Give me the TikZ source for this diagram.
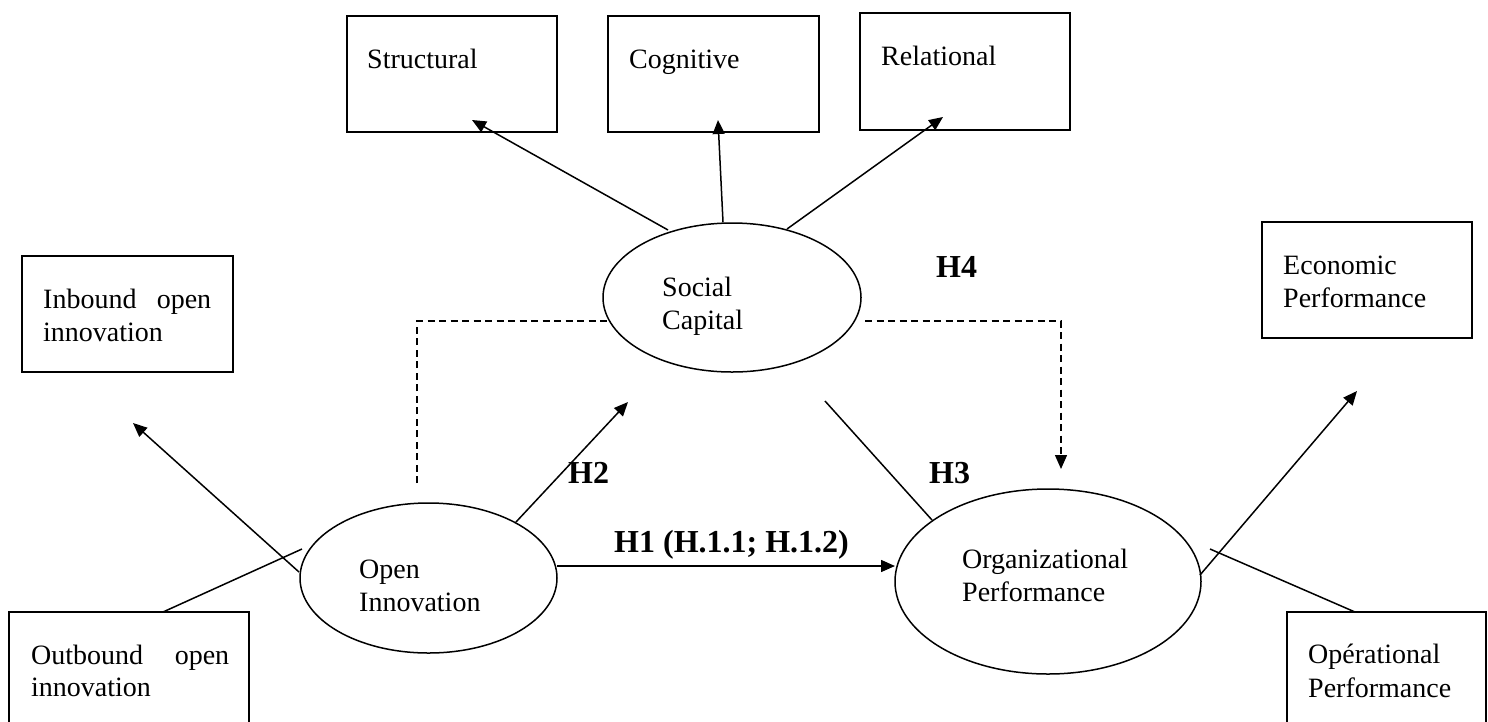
\documentclass[tikz,border=0pt]{standalone}
\usepackage{fontspec}
\setmainfont{Liberation Serif}
\usetikzlibrary{arrows.meta,shapes.geometric}
\begin{document}
\begin{tikzpicture}[x=1pt,y=-1pt,
  box/.style={draw, line width=1.7pt, inner sep=0pt, outer sep=0pt},
  oval/.style={draw, ellipse, line width=1.5pt, inner sep=0pt, outer sep=0pt},
  lbl/.style={anchor=base west, inner sep=0pt, font=\fontsize{28}{33}\selectfont},
  hyp/.style={anchor=base west, inner sep=0pt, font=\bfseries\fontsize{32}{36}\selectfont},
  conn/.style={line width=1.5pt},
  arr/.style={conn, -{Triangle[length=14pt,width=12pt]}},
  dashline/.style={line width=1.4pt, dash pattern=on 7pt off 4.5pt}]
\fill[white] (0,0) rectangle (1488,721);
\useasboundingbox (0,0) rectangle (1488,721);
\clip (0,0) rectangle (1488,721);

% boxes
\node[box, minimum width=210pt, minimum height=116pt] (str) at (452,74) {};
\node[box, minimum width=211pt, minimum height=116pt] (cog) at (713.5,74) {};
\node[box, minimum width=210pt, minimum height=117pt] (rel) at (965,71.5) {};
\node[box, minimum width=211pt, minimum height=116pt] (inb) at (127.5,314) {};
\node[box, minimum width=240pt, minimum height=140pt] (outb) at (129,682) {};
\node[box, minimum width=210pt, minimum height=116pt] (eco) at (1367,280) {};
\node[box, minimum width=199pt, minimum height=140pt] (ope) at (1386.5,682) {};

% ellipses
\node[oval, minimum width=258pt, minimum height=149pt] (sc) at (732,297.5) {};
\node[oval, minimum width=257pt, minimum height=150pt] (oi) at (428.5,578) {};
\node[oval, minimum width=306pt, minimum height=185pt] (op) at (1048,581.5) {};

% texts
\node[lbl] (tStr) at (367,68) {Structural};
\node[lbl] (tCog) at (629,68) {Cognitive};
\node[lbl] (tRel) at (881,65) {Relational};
\node[lbl] (tInbA) at (43,308) {\makebox[168pt][s]{Inbound open}};
\node[lbl] (tInbB) at (43,341) {innovation};
\node[lbl] (tOutA) at (31,664) {\makebox[198pt][s]{Outbound open}};
\node[lbl] (tOutB) at (31,696) {innovation};
\node[lbl] (tEcoA) at (1283,274) {Economic};
\node[lbl] (tEcoB) at (1283,307) {Performance};
\node[lbl] (tOpeA) at (1308,663) {Opérational};
\node[lbl] (tOpeB) at (1308,697) {Performance};
\node[lbl] (tScA) at (662,296) {Social};
\node[lbl] (tScB) at (662,329) {Capital};
\node[lbl] (tOiA) at (359,578) {Open};
\node[lbl] (tOiB) at (359,611) {Innovation};
\node[lbl] (tOpA) at (962,568) {Organizational};
\node[lbl] (tOpB) at (962,601) {Performance};

% hypothesis labels
\node[hyp] (h1) at (614,552) {H1 (H.1.1; H.1.2)};
\node[hyp] (h2) at (568,483) {H2};
\node[hyp] (h3) at (929,483) {H3};
\node[hyp] (h4) at (936,277) {H4};

% connector end points
\coordinate (scStr) at (668,230);
\coordinate (strTip) at (472,120);
\coordinate (scCog) at (723,222);
\coordinate (cogTip) at (718,120);
\coordinate (scRel) at (787,229);
\coordinate (relTip) at (943,117);
\coordinate (oiInb) at (299,572);
\coordinate (inbTip) at (133,423);
\coordinate (oiOut) at (302,549);
\coordinate (outTop) at (163,612);
\coordinate (oiH2) at (516,522);
\coordinate (h2Tip) at (628,402);
\coordinate (oiH1) at (557,566);
\coordinate (h1Tip) at (895,566);
\coordinate (h3Start) at (825,401);
\coordinate (opH3) at (932,520);
\coordinate (dA) at (417,483);
\coordinate (dB) at (417,321);
\coordinate (dC) at (607,321);
\coordinate (dD) at (865,321);
\coordinate (dE) at (1061,321);
\coordinate (dTip) at (1061,469);
\coordinate (opEco) at (1200,575);
\coordinate (ecoTip) at (1357,391);
\coordinate (opOpe) at (1210,549);
\coordinate (opeTop) at (1355,612);

% connectors
\draw[arr] (scStr) -- (strTip);
\draw[arr] (scCog) -- (cogTip);
\draw[arr] (scRel) -- (relTip);
\draw[arr] (oiInb) -- (inbTip);
\draw[conn] (outTop) -- (oiOut);
\draw[arr] (oiH2) -- (h2Tip);
\draw[arr] (oiH1) -- (h1Tip);
\draw[conn] (h3Start) -- (opH3);
\draw[dashline] (dA) -- (dB) -- (dC);
\draw[dashline, -{Triangle[length=14pt,width=12pt]}] (dD) -- (dE) -- (dTip);
\draw[arr] (opEco) -- (ecoTip);
\draw[conn] (opOpe) -- (opeTop);
\end{tikzpicture}
\end{document}
